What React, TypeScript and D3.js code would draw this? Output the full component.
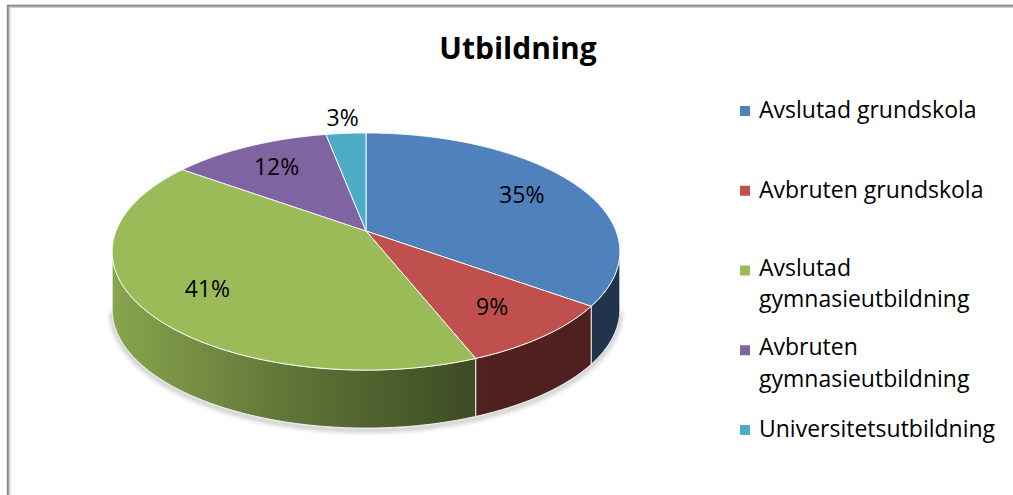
import React from 'react';
import * as d3 from 'd3';

const title = 'Utbildning';
const categories = [
  'Avslutad grundskola',
  'Avbruten grundskola',
  'Avslutad gymnasieutbildning',
  'Avbruten gymnasieutbildning',
  'Universitetsutbildning',
];
const legendLines = [
  ['Avslutad grundskola'],
  ['Avbruten grundskola'],
  ['Avslutad', 'gymnasieutbildning'],
  ['Avbruten', 'gymnasieutbildning'],
  ['Universitetsutbildning'],
];
const values = [35, 9, 41, 12, 3];
const colors = ['#4F81BD', '#C0504D', '#9BBB59', '#8064A2', '#4BACC6'];

const W = 1013;
const H = 495;
const CX = 366;
const CY = 231;
const SX = 250;
const SY = 115;
const K = 0.173;
const DEPTH = 58;
const FONT = '"Open Sans", Lato, sans-serif';

function proj(theta: number, r = 1): [number, number] {
  const u = r * Math.sin(theta);
  const v = -r * Math.cos(theta);
  const den = 1 - K * v;
  return [CX + (SX * u) / den, CY + (SY * v) / den];
}

function arcPts(a0: number, a1: number, dy = 0): [number, number][] {
  const n = Math.max(2, Math.ceil((a1 - a0) / 0.01));
  const pts: [number, number][] = [];
  for (let i = 0; i <= n; i++) {
    const t = a0 + ((a1 - a0) * i) / n;
    const p = proj(t);
    pts.push([p[0], p[1] + dy]);
  }
  return pts;
}

const line = d3.line<[number, number]>().x((d) => d[0]).y((d) => d[1]);

function shade(c: string, k: number) {
  const r = d3.rgb(c);
  return d3.rgb(r.r * k, r.g * k, r.b * k).formatHex();
}

export default function App() {
  const pie = d3.pie<number>().sort(null).startAngle(0).endAngle(2 * Math.PI);
  const arcs = pie(values);
  const total = d3.sum(values);
  const thR = Math.acos(-K);
  const thL = 2 * Math.PI - thR;

  const sides = arcs.map((a, i) => {
    const s0 = Math.max(a.startAngle, thR);
    const s1 = Math.min(a.endAngle, thL);
    if (s0 >= s1) return null;
    const top = arcPts(s0, s1);
    const bot = arcPts(s0, s1, DEPTH).reverse();
    return { i, d: line([...top, ...bot]) + 'Z' };
  });

  const tops = arcs.map((a, i) => {
    const pts = [[CX, CY] as [number, number], ...arcPts(a.startAngle, a.endAngle)];
    return { i, d: line(pts) + 'Z' };
  });

  const shadowD = line(arcPts(thR, thL, DEPTH));

  const labels = arcs.map((a, i) => {
    const mid = (a.startAngle + a.endAngle) / 2;
    const pct = Math.round((values[i] / total) * 100);
    const r = pct < 5 ? 1.2 : 0.74;
    const p = proj(mid, r);
    return { i, x: p[0], y: p[1], t: `${pct}%` };
  });

  const gx0 = CX - SX * 1.02;
  const gx1 = CX + SX * 1.02;

  const legendX = 740;
  const legendY0 = 118;
  const legendStep = 79.75;
  const lineH = 31.6;
  const multiShift = -1.8;

  return (
    <svg
      width={W}
      height={H}
      style={{ position: 'absolute', left: 0, top: 0, background: '#fff' }}
    >
      <defs>
        {colors.map((c, i) => (
          <linearGradient
            key={i}
            id={`side${i}`}
            gradientUnits="userSpaceOnUse"
            x1={gx0}
            x2={gx1}
            y1={0}
            y2={0}
          >
            <stop offset="0" stopColor={shade(c, 0.88)} />
            <stop offset="0.35" stopColor={shade(c, 0.62)} />
            <stop offset="0.69" stopColor={shade(c, 0.41)} />
            <stop offset="1" stopColor={shade(c, 0.4)} />
          </linearGradient>
        ))}
        <filter id="blur" x="-10%" y="-10%" width="120%" height="130%">
          <feGaussianBlur stdDeviation="2.5" />
        </filter>
      </defs>
      <rect x={0} y={0} width={W} height={H} fill="#fff" />
      <rect x={9.8} y={7.3} width={1100} height={600} fill="none" stroke="#cfcfcf" strokeWidth={1.4} />
      <rect x={7.8} y={5.7} width={1100} height={600} fill="none" stroke="#888" strokeWidth={2} />

      <text
        x={518}
        y={59}
        textAnchor="middle"
        fontFamily={FONT}
        fontWeight="bold"
        fontSize={30}
        fill="#000"
      >
        {title}
      </text>

      <path d={shadowD || ''} fill="none" stroke="#000" strokeOpacity={0.35} strokeWidth={3} filter="url(#blur)" transform="translate(0,2)" />

      {sides.map((s) =>
        s ? (
          <path
            key={`s${s.i}`}
            d={s.d}
            fill={`url(#side${s.i})`}
            stroke="#fff"
            strokeOpacity={0.85}
            strokeWidth={1}
            strokeLinejoin="round"
          />
        ) : null
      )}
      {tops.map((t) => (
        <path
          key={`t${t.i}`}
          d={t.d}
          fill={colors[t.i]}
          stroke="#fff"
          strokeOpacity={0.9}
          strokeWidth={1}
          strokeLinejoin="round"
        />
      ))}

      {labels.map((l) => (
        <text
          key={`l${l.i}`}
          x={l.x}
          y={l.y}
          textAnchor="middle"
          dominantBaseline="central"
          fontFamily={FONT}
          fontSize={23}
          fill="#000"
        >
          {l.t}
        </text>
      ))}

      {categories.map((c, i) => {
        const by = legendY0 + i * legendStep;
        const multi = legendLines[i].length > 1;
        const y0 = multi ? by + multiShift : by;
        return (
          <g key={`lg${i}`}>
            <rect x={legendX} y={by - 12} width={10} height={10} fill={colors[i]} />
            {legendLines[i].map((ln, j) => (
              <text
                key={j}
                x={legendX + 19}
                y={y0 + j * lineH}
                fontFamily={FONT}
                fontSize={23}
                fill="#000"
              >
                {ln}
              </text>
            ))}
          </g>
        );
      })}
    </svg>
  );
}
